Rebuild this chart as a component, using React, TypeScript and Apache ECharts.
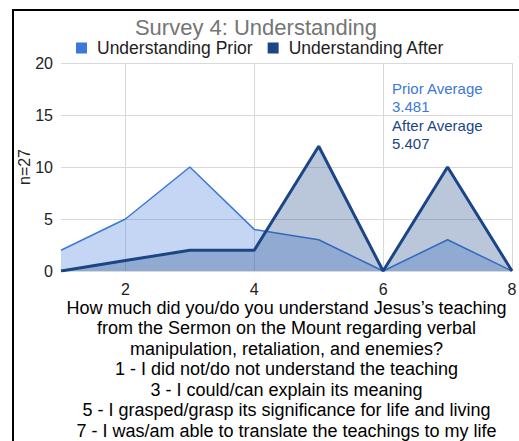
import React, { useEffect, useRef } from "react";
import * as echarts from "echarts";

const categories = ["1", "2", "3", "4", "5", "6", "7", "8"];
const priorValues = [2, 5, 10, 4, 3, 0, 3, 0];
const afterValues = [0, 1, 2, 2, 12, 0, 10, 0];
const yTicks = { min: 0, max: 20, interval: 5 };
const titleText = "Survey 4: Understanding";
const seriesNames = ["Understanding Prior", "Understanding After"];
const yAxisName = "n=27";
const xAxisNameLines = [
  "How much did you/do you understand Jesus\u2019s teaching",
  "from the Sermon on the Mount regarding verbal",
  "manipulation, retaliation, and enemies?",
  "1 - I did not/do not understand the teaching",
  "3 - I could/can explain its meaning",
  "5 - I grasped/grasp its significance for life and living",
  "7 - I was/am able to translate the teachings to my life",
];
const priorAvgLines = ["Prior Average", "3.481"];
const afterAvgLines = ["After Average", "5.407"];

const PRIOR = "#3c78d8";
const AFTER = "#1c4587";
const FONT = "Liberation Sans, Arial, sans-serif";

export default function App() {
  const ref = useRef<HTMLDivElement>(null);
  useEffect(() => {
    document.body.style.margin = "0";
    const chart = echarts.init(ref.current!, null, { renderer: "svg" });
    chart.setOption({
      animation: false,
      backgroundColor: "#ffffff",
      textStyle: { fontFamily: FONT },
      title: {
        text: titleText,
        left: 256,
        top: 16,
        textAlign: "center",
        padding: 0,
        textStyle: { color: "#757575", fontSize: 22, fontWeight: "normal", fontFamily: FONT },
      },
      legend: {
        top: 39,
        left: 76,
        padding: 0,
        itemWidth: 11,
        itemHeight: 11,
        itemGap: 15,
        icon: "rect",
        textStyle: { color: "#222222", fontSize: 17.5, fontFamily: FONT, padding: [0, 0, 0, 5] },
        data: [
          { name: seriesNames[0], itemStyle: { color: PRIOR } },
          { name: seriesNames[1], itemStyle: { color: AFTER } },
        ],
      },
      grid: { left: 61, right: 7, top: 63, bottom: 170, outerBoundsMode: "none", containLabel: false },
      xAxis: {
        type: "category",
        boundaryGap: false,
        data: categories,
        axisLine: { show: false },
        axisTick: { show: false },
        axisLabel: {
          interval: (i: number) => i % 2 === 1,
          color: "#222222",
          fontSize: 16,
          margin: 10,
          fontFamily: FONT,
        },
        splitLine: {
          show: true,
          interval: (i: number) => i % 2 === 1,
          lineStyle: { color: "#d9d9d9", width: 1 },
        },
        name: xAxisNameLines.join("\n"),
        nameLocation: "middle",
        nameGap: 26.5,
        nameMoveOverlap: false,
        nameTextStyle: {
          color: "#000000",
          fontSize: 18,
          lineHeight: 20.5,
          verticalAlign: "top",
          fontFamily: FONT,
        },
      },
      yAxis: {
        type: "value",
        min: yTicks.min,
        max: yTicks.max,
        interval: yTicks.interval,
        axisLine: { show: false },
        axisTick: { show: false },
        axisLabel: { color: "#222222", fontSize: 16, margin: 8, fontFamily: FONT },
        splitLine: { show: true, lineStyle: { color: "#d9d9d9", width: 1 } },
        name: yAxisName,
        nameLocation: "middle",
        nameRotate: 90,
        nameGap: 29,
        nameMoveOverlap: false,
        nameTextStyle: { color: "#222222", fontSize: 16, fontFamily: FONT },
      },
      series: [
        {
          name: seriesNames[0],
          type: "line",
          data: priorValues,
          symbol: "none",
          lineStyle: { color: PRIOR, width: 1.5 },
          itemStyle: { color: PRIOR },
          areaStyle: { color: PRIOR, opacity: 0.3 },
          z: 2,
        },
        {
          name: seriesNames[1],
          type: "line",
          data: afterValues,
          symbol: "none",
          lineStyle: { color: AFTER, width: 3 },
          itemStyle: { color: AFTER },
          areaStyle: { color: AFTER, opacity: 0.3 },
          z: 3,
        },
      ],
      graphic: [
        { type: "line", shape: { x1: 12, y1: 10, x2: 519, y2: 10 }, style: { stroke: "#000", lineWidth: 2 } },
        { type: "line", shape: { x1: 13, y1: 10, x2: 13, y2: 441 }, style: { stroke: "#000", lineWidth: 2 } },
        {
          type: "text",
          left: 392,
          top: 79,
          style: { text: priorAvgLines.join("\n"), fill: PRIOR, font: `15px ${FONT}`, lineHeight: 18 },
        },
        {
          type: "text",
          left: 392,
          top: 116,
          style: { text: afterAvgLines.join("\n"), fill: AFTER, font: `15px ${FONT}`, lineHeight: 18 },
        },
      ],
    });
    return () => chart.dispose();
  }, []);
  return <div ref={ref} style={{ width: 519, height: 441 }} />;
}
